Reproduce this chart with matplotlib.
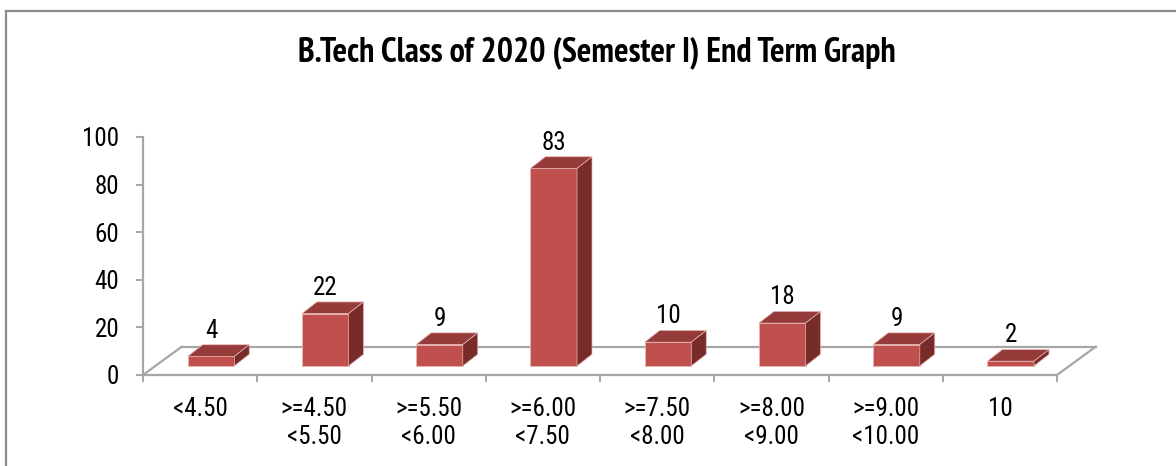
import matplotlib
matplotlib.use("Agg")
import matplotlib.pyplot as plt
from matplotlib.patches import Polygon
from matplotlib.lines import Line2D
import numpy as np

# ---- data ----
categories = ["<4.50", ">=4.50\n<5.50", ">=5.50\n<6.00", ">=6.00\n<7.50",
              ">=7.50\n<8.00", ">=8.00\n<9.00", ">=9.00\n<10.00", "10"]
values = [4, 22, 9, 83, 10, 18, 9, 2]
yticks = [0, 20, 40, 60, 80, 100]
title = "B.Tech Class of 2020 (Semester I) End Term Graph"

FONT = ["Roboto Condensed", "Liberation Sans", "DejaVu Sans"]
TFONT = ["PT Sans Narrow", "Roboto Condensed", "Liberation Sans", "DejaVu Sans"]
plt.rcParams['font.family'] = FONT

W, H = 1176, 466
fig = plt.figure(figsize=(W / 100, H / 100), dpi=100)
fig.patch.set_facecolor("white")

# axes placement (pixels)
ax_left, ax_right = 143, 143 + 8.5 * 114.25
ax_bottom, ax_top = 375, 137
ax = fig.add_axes([ax_left / W, 1 - ax_bottom / H,
                   (ax_right - ax_left) / W, (ax_bottom - ax_top) / H])
ax.set_xlim(-0.5, 8.0)
ax.set_ylim(0, 100)
ax.set_facecolor("none")

grey = "#A6A6A6"
n = len(values)
x = np.arange(n)

# 3D offsets in data units
floor_dx, floor_dy = 0.339, 11.9
bar_off_x, bar_off_y = 0.095, 3.8
bar_w = 0.408
depth_dx, depth_dy = 0.131, 4.9

# floor
ax.spines['top'].set_visible(False)
ax.spines['right'].set_visible(False)
ax.spines['left'].set_color(grey)
ax.spines['left'].set_linewidth(1.6)
ax.spines['bottom'].set_color(grey)
ax.spines['bottom'].set_linewidth(1.6)
ax.spines['bottom'].set_bounds(-0.5, n - 0.5)

ax.plot([-0.5 + floor_dx, n - 0.5 + floor_dx], [floor_dy, floor_dy],
        color=grey, lw=1.6, clip_on=False, zorder=1)
ax.plot([-0.5, -0.5 + floor_dx], [0, floor_dy], color=grey, lw=1.6,
        clip_on=False, zorder=1)
ax.plot([n - 0.5, n - 0.5 + floor_dx], [0, floor_dy], color=grey, lw=1.6,
        clip_on=False, zorder=1)

# bars
front_c = "#C0504D"
top_c = "#953B39"
side_c = "#772C2A"
edge_c = "#E8B4B2"
bx = x + bar_off_x
ax.bar(bx, values, width=bar_w, bottom=bar_off_y, color=front_c,
       edgecolor=edge_c, linewidth=0.6, zorder=3)
for xi, v in zip(bx, values):
    xl, xr = xi - bar_w / 2, xi + bar_w / 2
    top = bar_off_y + v
    ax.add_patch(Polygon([(xl, top), (xr, top), (xr + depth_dx, top + depth_dy),
                          (xl + depth_dx, top + depth_dy)],
                         closed=True, facecolor=top_c, edgecolor=edge_c,
                         linewidth=0.5, zorder=3))
    ax.add_patch(Polygon([(xr, bar_off_y), (xr + depth_dx, bar_off_y + depth_dy),
                          (xr + depth_dx, top + depth_dy), (xr, top)],
                         closed=True, facecolor=side_c, edgecolor=edge_c,
                         linewidth=0.5, zorder=3))
    ax.text(xi, top + depth_dy + 3.0, str(v), ha='center', va='baseline',
            fontsize=18, color='black', zorder=4)

# ticks
ax.set_yticks(yticks)
ax.set_yticklabels([str(t) for t in yticks])
ax.tick_params(axis='y', direction='out', length=5, width=1.4, color=grey,
               labelsize=18, pad=12)
ax.set_xticks(x)
ax.set_xticklabels(categories, linespacing=1.2)
ax.tick_params(axis='x', which='major', length=0, labelsize=18, pad=16)
ax.set_xticks(np.arange(-0.5, n, 1.0), minor=True)
ax.tick_params(axis='x', which='minor', direction='out', length=5, width=1.4,
               color=grey)

# title
fig.text(597 / W, 1 - 61 / H, title, ha='center', va='baseline',
         fontsize=24.5, fontweight='bold', color='black', family=TFONT)

# chart border (left and top)
bc = "#8C8C8C"
fig.add_artist(Line2D([6 / W, 6 / W], [0, 1 - 11 / H], transform=fig.transFigure,
                      color=bc, lw=1.6))
fig.add_artist(Line2D([6 / W, 1], [1 - 11 / H, 1 - 11 / H], transform=fig.transFigure,
                      color=bc, lw=1.6))

fig.savefig("out.png", dpi=100, facecolor="white")
